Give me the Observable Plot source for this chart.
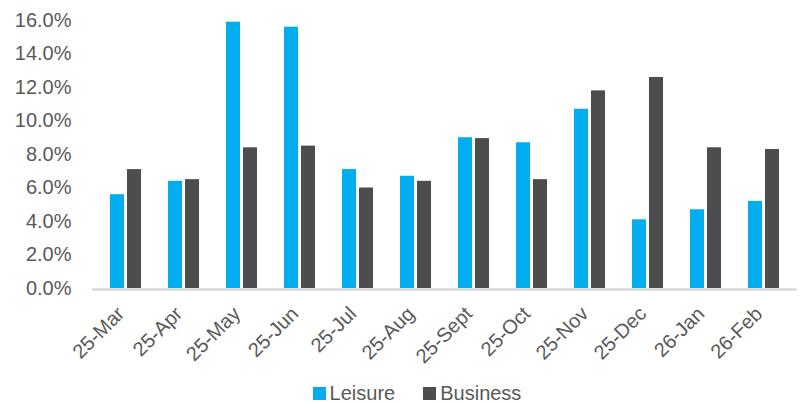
<!DOCTYPE html>
<html>
<head>
<meta charset="utf-8">
<script src="https://cdn.jsdelivr.net/npm/d3@7"></script>
<script src="https://cdn.jsdelivr.net/npm/@observablehq/plot@0.6"></script>
<style>
  html, body { margin: 0; padding: 0; background: #fff; }
  body { width: 800px; height: 403px; overflow: hidden; font-family: "Liberation Sans", Arial, Helvetica, sans-serif; }
  #legend { display: flex; justify-content: center; align-items: center; height: 33px; padding-top: 7px; padding-left: 34px; color: #595959; font-size: 20px; }
  .item { display: flex; align-items: center; }
  .sw { width: 13px; height: 13px; margin-right: 4px; }
  .gap { width: 28px; }
</style>
</head>
<body>
<div id="chart"></div>
<div id="legend"></div>
<script>
const months = ["25-Mar","25-Apr","25-May","25-Jun","25-Jul","25-Aug","25-Sept","25-Oct","25-Nov","25-Dec","26-Jan","26-Feb"];
const leisure = [5.6, 6.4, 15.9, 15.6, 7.1, 6.7, 9.0, 8.7, 10.7, 4.1, 4.7, 5.2];
const business = [7.1, 6.5, 8.4, 8.5, 6.0, 6.4, 8.95, 6.5, 11.8, 12.6, 8.4, 8.3];
const seriesNames = ["Leisure", "Business"];
const seriesColors = ["#00AEEF", "#4D4D4F"];
const yTicks = [0, 2, 4, 6, 8, 10, 12, 14, 16];

const leisureData = months.map((m, i) => ({month: m, series: "Leisure", value: leisure[i]}));
const businessData = months.map((m, i) => ({month: m, series: "Business", value: business[i]}));

const chart = Plot.plot({
  width: 800,
  height: 370,
  marginLeft: 92,
  marginRight: 3,
  marginTop: 20,
  marginBottom: 82,
  style: {fontFamily: "'Liberation Sans', Arial, sans-serif", fontSize: "20px", color: "#595959", background: "#fff"},
  x: {domain: months, paddingInner: 0.47, paddingOuter: 0.235, label: null},
  y: {domain: [0, 16], label: null},
  color: {domain: seriesNames, range: seriesColors},
  marks: [
    Plot.barY(leisureData, {x: "month", y: "value", fill: "series", insetLeft: 0, insetRight: 17}),
    Plot.barY(businessData, {x: "month", y: "value", fill: "series", insetLeft: 17, insetRight: 0}),
    Plot.ruleY([0], {stroke: "#d9d9d9", strokeWidth: 2.5, dy: 1}),
    Plot.axisY({ticks: yTicks, tickFormat: d => d.toFixed(1) + "%", tickSize: 0, tickPadding: 21, label: null, fill: "#595959", fontSize: 20}),
    Plot.axisX({tickSize: 0, tickRotate: -45, tickPadding: 14, dx: -5, dy: 8, label: null, fill: "#595959", fontSize: 20})
  ]
});
document.getElementById("chart").appendChild(chart);

const legend = document.getElementById("legend");
seriesNames.forEach((name, i) => {
  if (i > 0) { const g = document.createElement("div"); g.className = "gap"; legend.appendChild(g); }
  const item = document.createElement("div");
  item.className = "item";
  const sw = document.createElement("div");
  sw.className = "sw";
  sw.style.background = seriesColors[i];
  const label = document.createElement("span");
  label.textContent = name;
  item.appendChild(sw);
  item.appendChild(label);
  legend.appendChild(item);
});
</script>
</body>
</html>
